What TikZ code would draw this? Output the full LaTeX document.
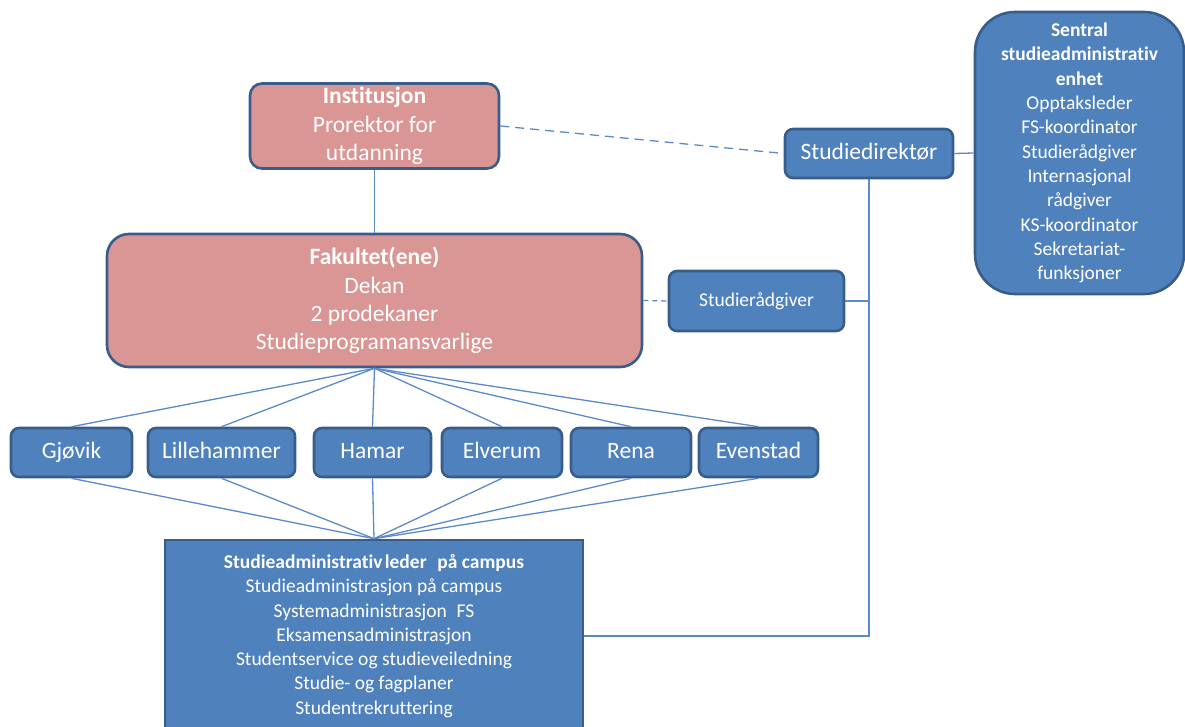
\documentclass[tikz,border=0pt]{standalone}
\usepackage{fontspec}
\setmainfont{Carlito}[Ligatures={NoCommon}]
\definecolor{pinkfill}{HTML}{D99694}
\definecolor{bluefill}{HTML}{4F81BD}
\definecolor{boxborder}{HTML}{385D8A}
\definecolor{connline}{HTML}{5B8AC9}
\tikzset{
  basebox/.style={draw=boxborder, line width=2.6pt, text=white, align=center, inner sep=0pt, rectangle},
  pinkbox/.style={basebox, fill=pinkfill},
  bluebox/.style={basebox, fill=bluefill},
  bigfont/.style={font=\fontsize{23.5}{28.3}\selectfont},
  smallfont/.style={font=\fontsize{19.5}{24.3}\selectfont},
  conn/.style={draw=connline, line width=1.3pt},
  dashconn/.style={conn, dash pattern=on 9pt off 6pt},
  campusbox/.style={bluebox, bigfont, rounded corners=8pt, minimum height=49pt, execute at begin node=\strut},
}
\begin{document}
\begin{tikzpicture}[x=1pt,y=-1pt]
\useasboundingbox (0,0) rectangle (1185,727);
% nodes
\node[pinkbox, bigfont, rounded corners=12pt, minimum width=249pt, minimum height=85pt] (inst) at (374.5,126)
  {\textbf{Institusjon}\\Prorektor for\\utdanning};
\node[pinkbox, bigfont, rounded corners=22pt, minimum width=535pt, minimum height=133pt] (fak) at (374.5,300.5)
  {\textbf{Fakultet(ene)}\\Dekan\\2 prodekaner\\Studieprogramansvarlige};
\node[bluebox, bigfont, rounded corners=8pt, minimum width=168pt, minimum height=49pt] (dir) at (869,153.5)
  {\strut Studiedirektør};
\node[bluebox, smallfont, rounded corners=40pt, minimum width=209pt, minimum height=282pt] (sentral) at (1079.5,153)
  {\textbf{Sentral}\\\textbf{studieadministrativ}\\\textbf{enhet}\\Opptaksleder\\FS-koordinator\\Studierådgiver\\Internasjonal\\rådgiver\\KS-koordinator\\Sekretariat-\\funksjoner};
\node[bluebox, font=\fontsize{19.5}{22}\selectfont, rounded corners=8pt, minimum width=175pt, minimum height=60pt] (radg) at (756.5,301)
  {Studierådgiver};
\node[campusbox, minimum width=121pt] (gjovik) at (71.5,452.5) {Gjøvik};
\node[campusbox, minimum width=147pt] (lille) at (221.5,452.5) {Lillehammer};
\node[campusbox, minimum width=117pt] (hamar) at (372.5,452.5) {Hamar};
\node[campusbox, minimum width=120pt] (elverum) at (502,452.5) {Elverum};
\node[campusbox, minimum width=120pt] (rena) at (631,452.5) {Rena};
\node[campusbox, minimum width=119pt] (evenstad) at (758.5,452.5) {Evenstad};
\node[bluebox, smallfont, minimum width=418pt, minimum height=192pt] (campus) at (374,636)
  {\textbf{Studieadministrativ\hspace{0.12em}leder\hspace{0.55em}på campus}\\Studieadministrasjon på campus\\Systemadministrasjon\hspace{0.5em}FS\\Eksamensadministrasjon\\Studentservice og studieveiledning\\Studie- og fagplaner\\Studentrekruttering};
% connectors
\draw[conn] (inst.south) -- (fak.north);
\draw[dashconn] (inst.east) -- (dir.west);
\draw[conn] (dir.east) -- (sentral.west);
\draw[conn] (dir.south) |- (campus.east);
\coordinate (junction) at (dir.south |- radg.east);
\draw[conn] (radg.east) -- (junction);
\draw[conn, dash pattern=on 5pt off 4pt] (fak.east) -- (radg.west);
\foreach \c in {gjovik,lille,hamar,elverum,rena,evenstad}{
  \draw[conn] (fak.south) -- (\c.north);
  \draw[conn] (\c.south) -- (campus.north);
}
\end{tikzpicture}
\end{document}
